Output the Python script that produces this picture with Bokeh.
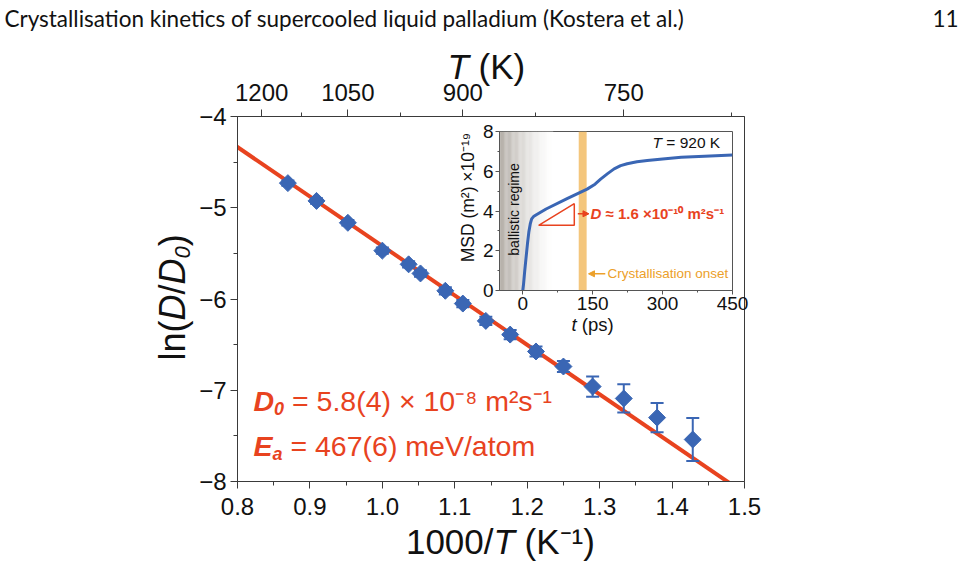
import numpy as np
from bokeh.plotting import figure
from bokeh.models import (Range1d, LinearAxis, FixedTicker, CustomJSTickFormatter, Label,
                          Arrow, NormalHead)
from bokeh.embed import file_html
from bokeh.resources import INLINE

# ---------------- data (main panel) ----------------
temperature_K = [1150, 1100, 1050, 1000, 965, 950, 920, 900, 875, 850, 825, 800, 775, 750, 725, 700]
ln_D_over_D0 = [-4.73, -4.925, -5.165, -5.47, -5.62, -5.72, -5.91, -6.05, -6.24, -6.39,
                -6.575, -6.74, -6.96, -7.09, -7.30, -7.54]
ln_D_err = [0.03, 0.03, 0.03, 0.035, 0.035, 0.035, 0.04, 0.04, 0.045, 0.05,
            0.055, 0.06, 0.11, 0.155, 0.16, 0.235]
Ea_meV = 467.0
kB_meV_per_K = 0.08617333
fit_inv_T = [0.78, 1.52]
top_T_major = [1200, 1050, 900, 750]
top_T_minor = [1125, 975, 825, 675]
bottom_ticks = [0.8, 0.9, 1.0, 1.1, 1.2, 1.3, 1.4, 1.5]
bottom_minor = [0.85, 0.95, 1.05, 1.15, 1.25, 1.35, 1.45]
left_ticks = [-8, -7, -6, -5, -4]
left_minor = [-7.5, -6.5, -5.5, -4.5]

# ---------------- data (inset) ----------------
msd_t_ps = [0, 1.5, 4, 7, 10, 13, 16, 19, 23, 30, 50, 95, 138, 155, 167, 182, 196, 210, 224, 245, 267, 300, 340, 390, 450]
msd_1e19 = [0, 0.3, 0.95, 1.65, 2.35, 2.95, 3.35, 3.6, 3.72, 3.82, 4.1, 4.62, 5.1, 5.35, 5.6, 5.88, 6.12, 6.28, 6.38, 6.48, 6.54, 6.62, 6.7, 6.76, 6.82]
inset_x_ticks = [0, 150, 300, 450]
inset_x_minor = [75, 225, 375]
inset_y_ticks = [0, 2, 4, 6, 8]
inset_y_minor = [1, 3, 5, 7]
onset_band_ps = [120, 137]
ballistic_span_ps = [-50, 65]
slope_tri_t = [34, 110.5, 110.5]
slope_tri_msd = [3.28, 4.37, 3.28]

RED = "#e8431f"
BLUE = "#3a66b4"
ORANGE = "#eca02a"
BAND = "#f4c67c"
INK = "#111111"
AXC = "#3a3a3a"
FONT = "Liberation Sans"

inv_T = [1000.0 / T for T in temperature_K]
upper = [v + e for v, e in zip(ln_D_over_D0, ln_D_err)]
lower = [v - e for v, e in zip(ln_D_over_D0, ln_D_err)]
fit_y = [-(Ea_meV / kB_meV_per_K) * x / 1000.0 for x in fit_inv_T]

AW = {' ': 278, '(': 333, ')': 333, '/': 278, '.': 278, '=': 584, '×': 584, '≈': 584,
      'D': 722, 'E': 667, 'K': 667, 'T': 611, 'M': 833, 'S': 667, 'l': 222, 'n': 556,
      't': 278, 'p': 556, 's': 500, 'a': 556, 'm': 833, 'e': 556, 'V': 667, 'o': 556}


def tw(s, size):
    return sum(AW.get(c, 556) for c in s) * size / 1000.0


def lab(fig, x, y, text, size, style="normal", color=INK, align="left",
        angle=0.0, font=FONT):
    # y is the vertical centre of the text line
    fig.add_layout(Label(x=x, y=y, text=text, text_font=font, text_font_size=f"{size}px",
                         text_font_style=style, text_color=color, text_align=align,
                         text_baseline="middle", angle=angle))


# ---------------- main figure ----------------
FL, FR, FT, FB = 237, 744, 116, 481

p = figure(width=972, height=564, x_range=Range1d(0.8, 1.5), y_range=Range1d(-8, -4),
           output_backend="svg", toolbar_location=None,
           min_border_left=FL, min_border_right=972 - FR, min_border_top=FT,
           min_border_bottom=564 - FB)
p.background_fill_color = "white"
p.border_fill_color = "white"
p.outline_line_color = AXC
p.outline_line_width = 1
p.grid.visible = False


def style_axis(ax, size, out=7, mout=4, standoff=5, color=AXC):
    ax.major_tick_out = out
    ax.major_tick_in = 0
    ax.minor_tick_out = mout
    ax.minor_tick_in = 0
    for a in ("axis_line_color", "major_tick_line_color", "minor_tick_line_color"):
        setattr(ax, a, color)
    ax.major_label_text_font = FONT
    ax.major_label_text_font_size = f"{size}px"
    ax.major_label_text_color = INK
    ax.major_label_standoff = standoff


xa = p.xaxis[0]
xa.ticker = FixedTicker(ticks=bottom_ticks, minor_ticks=bottom_minor)
xa.formatter = CustomJSTickFormatter(code="return tick.toFixed(1);")
style_axis(xa, 24, standoff=9)
ya = p.yaxis[0]
ya.ticker = FixedTicker(ticks=left_ticks, minor_ticks=left_minor)
ya.formatter = CustomJSTickFormatter(code="return (tick < 0 ? '\\u2212' : '') + Math.abs(tick).toFixed(0);")
style_axis(ya, 24, standoff=4)
top_ax = LinearAxis(ticker=FixedTicker(ticks=[1000.0 / T for T in top_T_major],
                                       minor_ticks=[1000.0 / T for T in top_T_minor]),
                    formatter=CustomJSTickFormatter(code="return String(Math.round(1000 / tick));"))
style_axis(top_ax, 24, standoff=9)
p.add_layout(top_ax, "above")

p.line(fit_inv_T, fit_y, line_color=RED, line_width=4)
p.segment(x0=inv_T, y0=lower, x1=inv_T, y1=upper, line_color=BLUE, line_width=2)
p.scatter(inv_T, upper, marker="dash", size=13, line_color=BLUE, line_width=2)
p.scatter(inv_T, lower, marker="dash", size=13, line_color=BLUE, line_width=2)
p.scatter(inv_T, ln_D_over_D0, marker="square", angle=np.pi / 4, size=12,
          fill_color=BLUE, line_color=BLUE)

# ---------------- inset ----------------
IL, IR, IT, IB = 499, 732, 131, 290
PX, PY, PW, PH = 420, 100, 330, 250

ins = figure(width=PW, height=PH, x_range=Range1d(-50, 450), y_range=Range1d(0, 8),
             output_backend="svg", toolbar_location=None,
             min_border_left=IL - PX, min_border_right=PX + PW - IR,
             min_border_top=IT - PY, min_border_bottom=PY + PH - IB)
ins.background_fill_color = "white"
ins.border_fill_color = None
ins.outline_line_color = "#555555"
ins.grid.visible = False
ixa = ins.xaxis[0]
ixa.ticker = FixedTicker(ticks=inset_x_ticks, minor_ticks=inset_x_minor)
style_axis(ixa, 19, out=4, mout=2, standoff=2, color="#555555")
iya = ins.yaxis[0]
iya.ticker = FixedTicker(ticks=inset_y_ticks, minor_ticks=inset_y_minor)
style_axis(iya, 19, out=4, mout=2, standoff=2, color="#555555")

n = 46
edges = np.linspace(ballistic_span_ps[0], ballistic_span_ps[1], n + 1)
c0 = np.array([178, 172, 165])
cols = []
for k in range(n):
    f = (k + 0.5) / n
    w = (1 - f) ** 1.4
    c = c0 * w + 255 * (1 - w)
    cols.append("#%02x%02x%02x" % tuple(int(round(v)) for v in c))
ins.quad(left=edges[:-1], right=edges[1:] + 0.3, bottom=0, top=8, fill_color=cols, line_color=None)
ins.quad(left=[onset_band_ps[0]], right=[onset_band_ps[1]], bottom=[0], top=[8],
         fill_color=BAND, line_color=None)
ins.line(msd_t_ps, msd_1e19, line_color=BLUE, line_width=3)
ins.patch(slope_tri_t, slope_tri_msd, fill_alpha=0, line_color=RED, line_width=1.5)
ins.add_layout(Arrow(end=NormalHead(size=6, fill_color=RED, line_color=RED),
                     x_start=118, y_start=3.86, x_end=142, y_end=3.86,
                     line_color=RED, line_width=1.5))
ins.add_layout(Arrow(end=NormalHead(size=6, fill_color=ORANGE, line_color=ORANGE),
                     x_start=177, y_start=0.84, x_end=141, y_end=0.84,
                     line_color=ORANGE, line_width=1.5))
ins.styles = {"position": "absolute", "left": f"{PX}px", "top": f"{PY}px", "z-index": "5"}

# ---------------- text overlay (page pixel coordinates) ----------------
ov = figure(width=972, height=564, x_range=Range1d(0, 972), y_range=Range1d(564, 0),
            output_backend="svg", toolbar_location=None, min_border=0,
            x_axis_location=None, y_axis_location=None)
ov.outline_line_color = None
ov.background_fill_color = None
ov.border_fill_color = None
ov.grid.visible = False
ov.styles = {"position": "absolute", "left": "0px", "top": "0px", "z-index": "10",
             "pointer-events": "none"}

# header
lab(ov, 4, 18, "Crystallisation kinetics of supercooled liquid palladium (Kostera et al.)", 22.5, font="Lato")
lab(ov, 958, 18, "11", 22.5, align="right", font="Lato")

S = 35
sp = tw(" ", S)
# top axis title  T (K)
lab(ov, 447, 66, "T", S, style="italic")
lab(ov, 447 + tw("T", S) + sp, 66, "(K)", S)
# bottom axis title  1000/T (K^-1)
BT = 493
lab(ov, BT, 541, "1000/", S, align="right")
lab(ov, BT, 541, "T", S, style="italic")
lab(ov, BT + tw("T", S) + sp, 541, "(K\u207b\u00b9)", S)
# left axis title ln(D/D0), rotated
S2 = 36
bx = 172
yb = 360.0
for txt, st, sz, shift in [("ln(", "normal", S2, 0), ("D", "italic", S2, 0), ("/", "normal", S2, 0),
                           ("D", "italic", S2, 0), ("0", "italic", 22, 10), (")", "normal", S2, 0)]:
    lab(ov, bx + shift, yb, txt, sz, style=st, angle=np.pi / 2)
    yb -= tw(txt, sz)

# fit parameters
A = 28.5
SUB = 18
x0 = 253
lab(ov, x0, 400, "D", A, style="bold italic", color=RED)
lab(ov, x0 + tw("D", A), 408, "0", SUB, style="bold italic", color=RED)
lab(ov, x0 + tw("D", A) + tw("0", SUB) + tw(" ", A), 400,
    "= 5.8(4) \u00d7 10\u207b\u2078 m\u00b2s\u207b\u00b9", A, color=RED)
lab(ov, x0, 445, "E", A, style="bold italic", color=RED)
lab(ov, x0 + tw("E", A), 453, "a", SUB, style="bold italic", color=RED)
lab(ov, x0 + tw("E", A) + tw("a", SUB) + tw(" ", A), 445, "= 467(6) meV/atom", A, color=RED)

# inset texts
lab(ov, 652, 142, "T", 15.5, style="italic")
lab(ov, 652 + tw("T ", 15.5), 142, "= 920 K", 15.5)
lab(ov, 590, 213, "D", 15, style="bold italic", color=RED)
lab(ov, 590 + tw("D ", 15), 213, "\u2248 1.6 \u00d710\u207b\u00b9\u2070 m\u00b2s\u207b\u00b9", 15, style="bold", color=RED)
lab(ov, 513, 209, "ballistic regime", 14, align="center", angle=np.pi / 2)
lab(ov, 607, 273, "Crystallisation onset", 13.5, color=ORANGE)
lab(ov, 571, 324, "t", 18.5, style="italic")
lab(ov, 571 + tw("t ", 18.5), 324, "(ps)", 18.5)
lab(ov, 467, 197, "MSD (m\u00b2) \u00d710\u207b\u00b9\u2079", 17.5, align="center", angle=np.pi / 2)

open("out.html", "w", encoding="utf-8").write(file_html([p, ins, ov], INLINE))
